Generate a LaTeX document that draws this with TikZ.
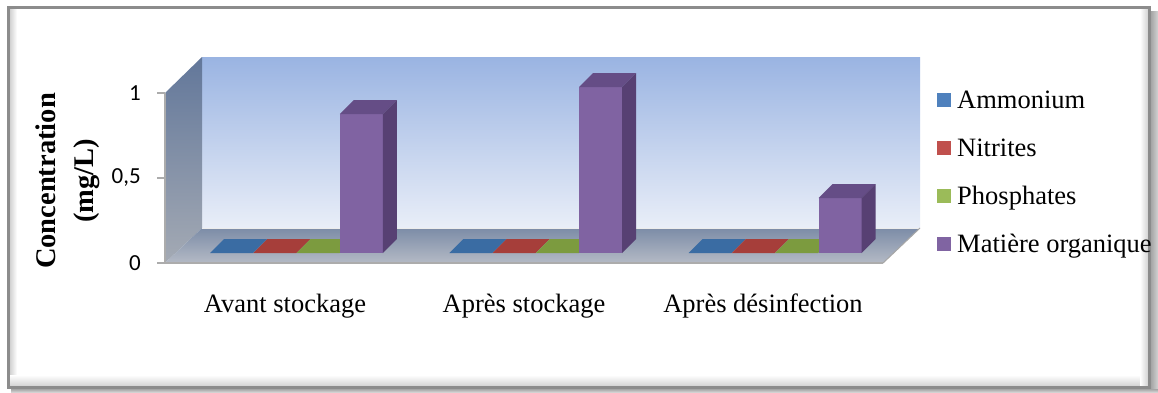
\documentclass[tikz,border=0pt]{standalone}
\usepackage{fontspec}
\setmainfont{Liberation Serif}
\newfontfamily\axisfont{Carlito}

\definecolor{serA}{HTML}{4F81BD}
\definecolor{serB}{HTML}{C0504D}
\definecolor{serC}{HTML}{9BBB59}
\definecolor{serD}{HTML}{8064A2}
\definecolor{flatA}{HTML}{3A6CA3}
\definecolor{flatB}{HTML}{A63E3A}
\definecolor{flatC}{HTML}{7C9B3F}
\definecolor{barFront}{HTML}{8063A2}
\definecolor{barTop}{HTML}{654D86}
\definecolor{barSide}{HTML}{574073}
\definecolor{wallTop}{HTML}{9AB4E2}
\definecolor{wallBot}{HTML}{E9EEF8}
\definecolor{sideTop}{HTML}{62779A}
\definecolor{sideBot}{HTML}{A4AAB4}
\definecolor{floorBack}{HTML}{7C8CA7}
\definecolor{floorFront}{HTML}{B4BAC5}
\definecolor{frameLine}{HTML}{8C8C8C}

\tikzset{
  legtext/.style={anchor=base west, inner sep=0pt, font=\fontsize{26.5}{29}\selectfont},
  cattext/.style={anchor=base, inner sep=0pt, font=\fontsize{26.5}{29}\selectfont},
  ticktext/.style={anchor=east, inner sep=0pt, font=\axisfont\fontsize{23}{25}\selectfont},
  axisline/.style={draw=gray!65, line width=1.5pt},
}

\begin{document}
\begin{tikzpicture}[x=1pt,y=-1pt]
\useasboundingbox (0,0) rectangle (1158,392);
\fill[white] (0,0) rectangle (1158,392);

% chart area frame with bevel and shadow
\shade[left color=gray!35, right color=white] (10,9) rectangle (17,386);
\shade[top color=white, bottom color=gray!35] (10,375) rectangle (1148,386);
\shade[left color=white, right color=gray!35] (1140,9) rectangle (1148,386);
\shade[left color=gray!70, right color=gray!35] (1151,11) rectangle (1158,392);
\shade[top color=gray!70, bottom color=gray!35] (11,389) rectangle (1158,392);
\draw[frameLine, line width=3pt] (8.5,7.5) rectangle (1149.5,387.5);

% walls and floor
\shade[top color=wallTop, bottom color=wallBot] (202,57) rectangle (920,228);
\shade[top color=sideTop, bottom color=sideBot] (165,93) -- (202,57) -- (202,228) -- (165,263) -- cycle;
\shade[top color=floorBack, bottom color=floorFront] (165,263) -- (883,263) -- (920,228) -- (202,228) -- cycle;
\draw[white!85!gray, line width=1pt] (202,228) -- (920,228);
\draw[gray!70, line width=1pt] (883,263) -- (920,228);
\draw[gray!65, line width=2pt] (165,263) -- (883,263);

% value axis
\coordinate (ax0) at (165,263);
\coordinate (ax1) at (165,93);
\draw[axisline] (ax0) -- (ax1);
\foreach \yy/\lab [count=\k] in {263/0,178/{0,5},93/1} {
  \coordinate (tk\k) at (157,\yy);
  \draw[axisline] (tk\k) -- ++(8,0);
  \node[ticktext] (num\k) at (141,\yy) {\lab};
}

% axis title
\node[rotate=90, align=center, inner sep=0pt,
      font=\bfseries\fontsize{28.5}{38}\selectfont] (ytitle) at (68,181)
  {Concentration\\(mg/L)};

% bars
\foreach \g/\h in {0/139,1/166,2/55} {
  \pgfmathsetmacro{\xo}{210+239.3*\g}
  \foreach \j/\col in {0/flatA,1/flatB,2/flatC} {
    \pgfmathsetmacro{\xa}{\xo+43.3*\j}
    \fill[\col] (\xa,253) -- ++(43,0) -- ++(14,-14) -- ++(-43,0) -- cycle;
  }
  \pgfmathsetmacro{\xp}{\xo+3*43.3}
  \pgfmathsetmacro{\yt}{253-\h}
  \fill[barFront] (\xp,253) rectangle ++(43,-\h);
  \fill[barTop] (\xp,\yt) -- ++(43,0) -- ++(14,-14) -- ++(-43,0) -- cycle;
  \fill[barSide] (\xp+43,253) -- ++(0,-\h) -- ++(14,-14) -- ++(0,\h) -- cycle;
}

% category labels
\node[cattext] (cat1) at (285,312) {Avant stockage};
\node[cattext] (cat2) at (524,312) {Après stockage};
\node[cattext] (cat3) at (763,312) {Après désinfection};

% legend
\foreach \yy/\col/\lab [count=\k] in {100/serA/Ammonium,148/serB/Nitrites,196/serC/Phosphates,244/serD/Matière organique} {
  \fill[\col] (937,\yy-7) rectangle ++(14,14);
  \node[legtext] (leg\k) at (957,\yy+8) {\lab};
}
\end{tikzpicture}
\end{document}
